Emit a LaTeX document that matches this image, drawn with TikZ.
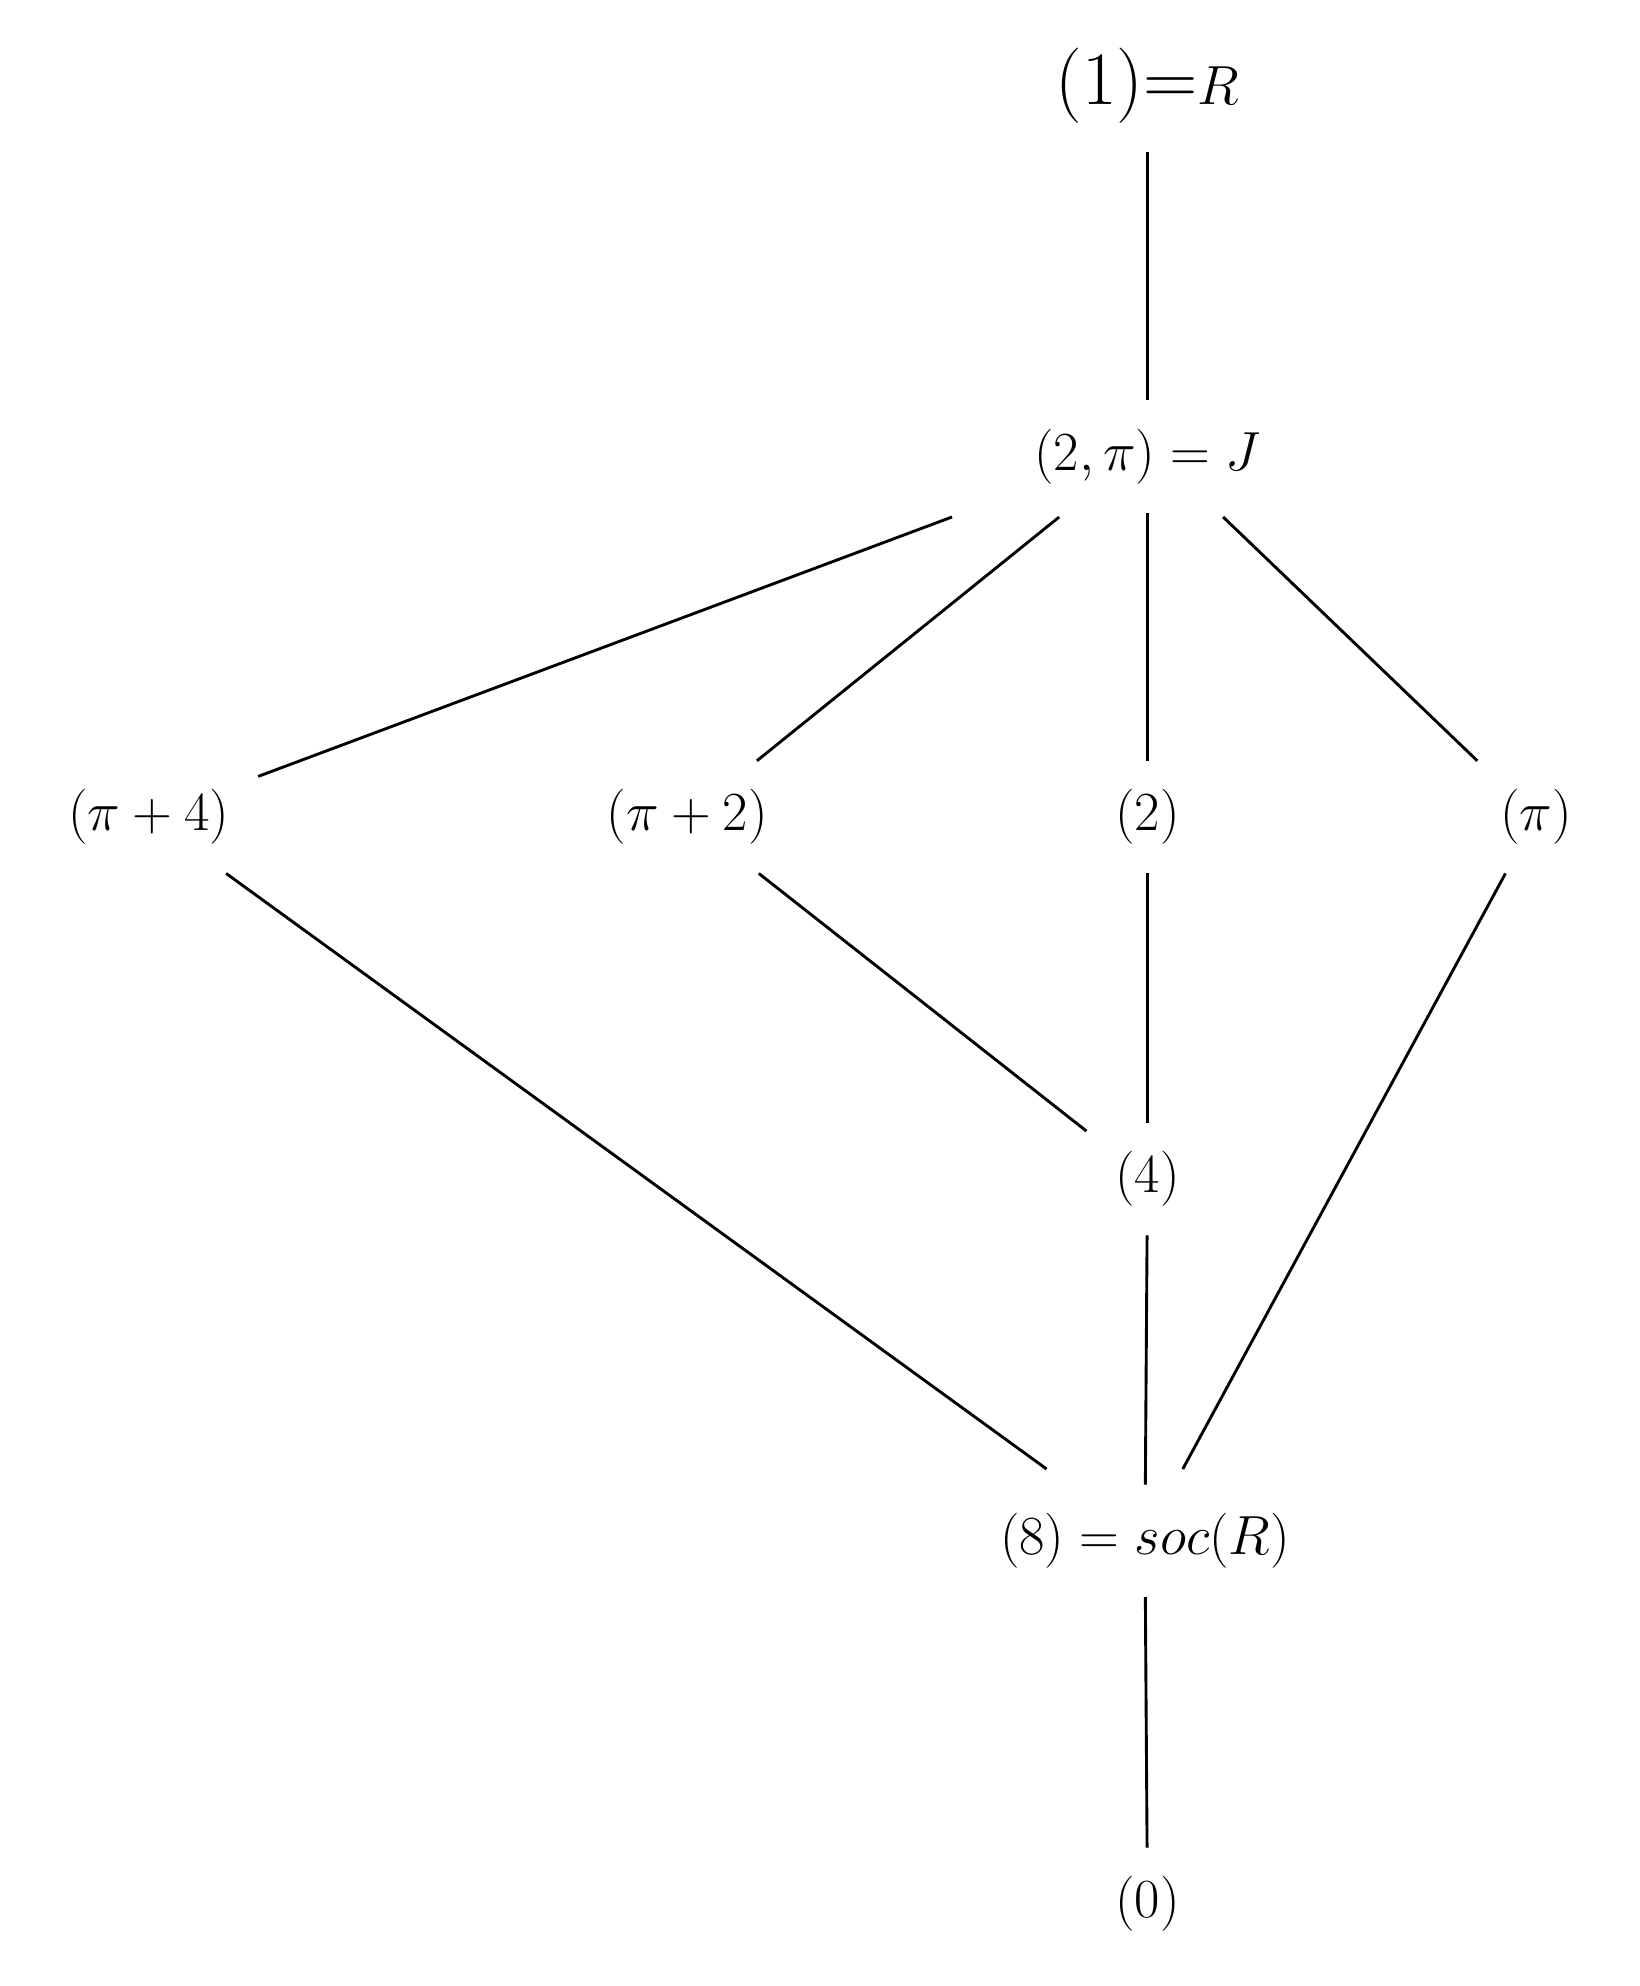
\documentclass[tikz,border=0pt]{standalone}
\begin{document}
\begin{tikzpicture}[every node/.style={font=\fontsize{34}{40}\selectfont, inner sep=0.45cm}, edge/.style={line width=1.3pt}]
\useasboundingbox (0,0) rectangle (26,-31.5);
\node (R) at (18.2,-1.36) {(1)=$R$};
\node (J) at (18.2,-7.24) {$(2,\pi)=J$};
\node (a) at (2.36,-12.96) {$(\pi+4)$};
\node (b) at (10.9,-12.96) {$(\pi+2)$};
\node (c) at (18.2,-12.96) {$(2)$};
\node (d) at (24.36,-12.96) {$(\pi)$};
\node (f) at (18.2,-18.7) {$(4)$};
\node (s) at (18.16,-24.44) {$(8)=soc(R)$};
\node (z) at (18.2,-30.2) {$(0)$};
\draw[edge] (R) -- (J);
\draw[edge] (J.south west) ++(0.2,0.5) coordinate (j1);
\draw[edge] (15.1,-8.2) -- (a);
\draw[edge] (16.8,-8.2) -- (b);
\draw[edge] (J) -- (c);
\draw[edge] (19.4,-8.2) -- (d);
\draw[edge] (a) -- (16.6,-23.3);
\draw[edge] (b) -- (f);
\draw[edge] (c) -- (f);
\draw[edge] (d) -- (18.76,-23.3);
\draw[edge] (f) -- (s);
\draw[edge] (s) -- (z);
\end{tikzpicture}
\end{document}
